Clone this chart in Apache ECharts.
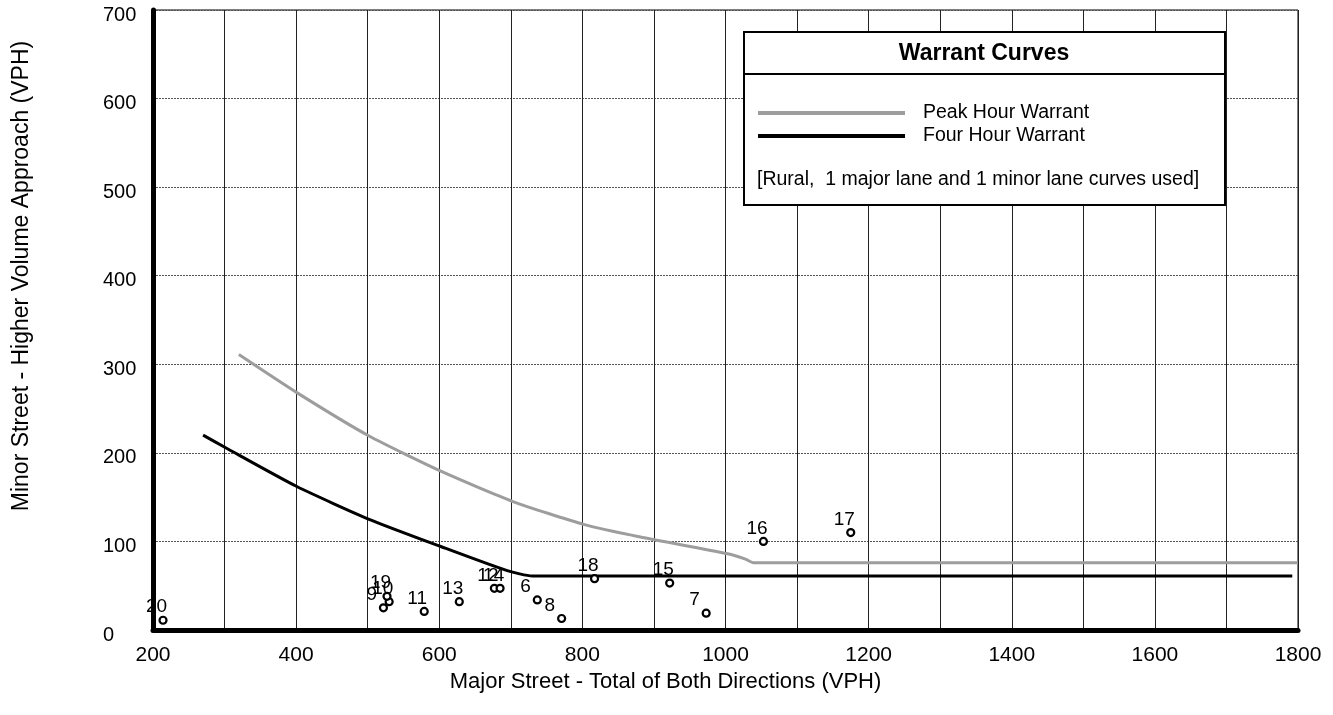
<!DOCTYPE html>
<html>
<head>
<meta charset="utf-8">
<script src="https://cdn.jsdelivr.net/npm/echarts@6/dist/echarts.min.js"></script>
<style>
html,body{margin:0;padding:0;background:#fff;}
#chart{width:1333px;height:715px;}
</style>
</head>
<body>
<div id="chart"></div>
<script>
// ---- data ----
var pointIds = ['6','7','8','9','10','11','12','13','14','15','16','17','18','19','20'];
var pointX   = [737, 973, 771, 522, 530, 579, 677, 628, 685, 922, 1053, 1175, 817, 527, 214];
var pointY   = [34, 19, 13, 25, 32, 21, 47, 32, 47, 53, 100, 110, 58, 38, 11];

var peakX = [320, 401, 502, 603, 703, 803, 881, 1003, 1028, 1039, 1800];
var peakY = [311, 268, 219, 179, 145, 119, 105, 86, 80, 76, 76];

var fourX = [270, 301, 401, 502, 603, 695, 730, 1792];
var fourY = [220, 206, 162, 125, 94, 67, 61, 61];

var xTicks = [200, 400, 600, 800, 1000, 1200, 1400, 1600, 1800];
var yTicks = [0, 100, 200, 300, 400, 500, 600, 700];

var FONT = '"Liberation Sans", Arial, sans-serif';

function zip(a, b) { return a.map(function (v, i) { return [v, b[i]]; }); }

var chart = echarts.init(document.getElementById('chart'));
chart.setOption({
  backgroundColor: '#fff',
  animation: false,
  textStyle: { fontFamily: FONT, color: '#000' },
  grid: { left: 153, right: 35, top: 10, bottom: 85, show: true, borderColor: '#000', borderWidth: 1 },
  xAxis: {
    type: 'value', min: 200, max: 1800, interval: 100,
    name: 'Major Street - Total of Both Directions (VPH)',
    nameLocation: 'middle', nameGap: 39,
    nameTextStyle: { fontSize: 22, color: '#000', fontFamily: FONT, padding: [0, 120, 0, 0] },
    axisLine: { show: true, onZero: false, lineStyle: { color: '#000', width: 5 } },
    axisTick: { show: false },
    axisLabel: {
      fontSize: 21, color: '#000', fontFamily: FONT, margin: 15,
      formatter: function (v) { return xTicks.indexOf(v) >= 0 ? String(v) : ''; }
    },
    splitLine: { show: true, lineStyle: { color: '#222', width: 1 } }
  },
  yAxis: {
    type: 'value', min: 0, max: 700, interval: 100,
    name: 'Minor Street - Higher Volume Approach (VPH)',
    nameLocation: 'middle', nameGap: 120, nameRotate: 90,
    nameTextStyle: { fontSize: 23, color: '#000', fontFamily: FONT, padding: [0, 0, 0, 88] },
    axisLine: { show: true, onZero: false, lineStyle: { color: '#000', width: 5 } },
    axisTick: { show: false },
    axisLabel: {
      fontSize: 20, color: '#000', fontFamily: FONT, margin: 50, align: 'left',
      verticalAlign: 'top', lineHeight: 10,
      formatter: function (v) { return yTicks.indexOf(v) >= 0 ? String(v) : ''; }
    },
    splitLine: { show: true, lineStyle: { color: '#555', width: 1, type: [2, 1] } }
  },
  legend: {
    orient: 'vertical', left: 753, top: 98, itemGap: 3, z: 100,
    itemWidth: 147, itemHeight: 4,
    textStyle: { fontSize: 19.5, color: '#000', fontFamily: FONT, padding: [0, 0, 0, 13] },
    data: [
      { name: 'Peak Hour Warrant', icon: 'rect' },
      { name: 'Four Hour Warrant', icon: 'rect' }
    ]
  },
  graphic: [
    { type: 'rect', left: 743, top: 31, shape: { width: 481, height: 173 },
      style: { fill: '#fff', stroke: '#000', lineWidth: 2 }, z: 50 },
    { type: 'line', shape: { x1: 743, y1: 74, x2: 1224, y2: 74 },
      style: { stroke: '#000', lineWidth: 2 }, z: 51 },
    { type: 'text', x: 984, y: 54, z: 52,
      style: { text: 'Warrant Curves', font: 'bold 23px ' + FONT, fill: '#000',
               textAlign: 'center', textVerticalAlign: 'middle', align: 'center', verticalAlign: 'middle' } },
    { type: 'text', x: 757, y: 180, z: 52,
      style: { text: '[Rural,  1 major lane and 1 minor lane curves used]', font: '19.5px ' + FONT, fill: '#000',
               textVerticalAlign: 'middle', verticalAlign: 'middle' } }
  ],
  series: [
    {
      name: 'Peak Hour Warrant', type: 'line', data: zip(peakX, peakY),
      showSymbol: false, symbol: 'none', smooth: 0.2,
      lineStyle: { color: '#9d9d9d', width: 3 }, itemStyle: { color: '#9d9d9d' }, z: 3
    },
    {
      name: 'Four Hour Warrant', type: 'line', data: zip(fourX, fourY),
      showSymbol: false, symbol: 'none', smooth: 0.2,
      lineStyle: { color: '#000', width: 3 }, itemStyle: { color: '#000' }, z: 4
    },
    {
      name: 'Points', type: 'scatter',
      data: pointX.map(function (x, i) { return { value: [x, pointY[i]], name: pointIds[i] }; }),
      symbol: 'circle', symbolSize: 7,
      itemStyle: { color: '#fff', borderColor: '#000', borderWidth: 2.2, opacity: 1 },
      label: {
        show: true, position: 'top', align: 'left', offset: [-17, 6],
        formatter: '{b}', fontSize: 19, color: '#000', fontFamily: FONT, opacity: 1
      },
      z: 5
    }
  ]
});
</script>
</body>
</html>
